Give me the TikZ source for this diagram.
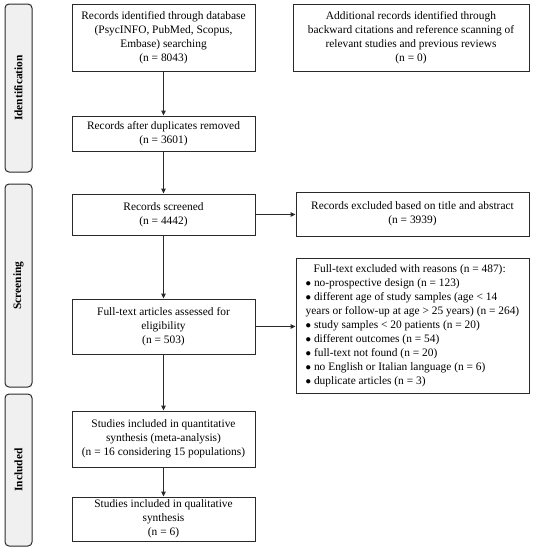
\documentclass[tikz,border=0pt]{standalone}
\usepackage{fontspec}
\setmainfont{Liberation Serif}
\usetikzlibrary{arrows.meta}
\definecolor{phasefill}{HTML}{F0F0F0}
\definecolor{edge}{HTML}{2A2A2A}
\tikzset{
  box/.style={draw=edge, line width=1pt, fill=white, align=center, inner sep=2pt, font=\fontsize{11.4}{14}\selectfont},
  phase/.style={draw=edge, line width=1pt, fill=phasefill, rounded corners=4pt, minimum width=27pt, rotate=90, font=\fontsize{11.4}{12}\selectfont\bfseries},
  arr/.style={draw=edge, line width=1pt, -{Triangle[length=5pt,width=4.5pt]}}
}
\begin{document}
\begin{tikzpicture}[x=1pt,y=-1pt]
\useasboundingbox (0,0) rectangle (534,550);
% phase boxes
\node[phase, minimum width=168pt, minimum height=27pt] (pid) at (18.5,88) {Identification};
\node[phase, minimum width=203pt, minimum height=27pt] (psc) at (18.5,285.5) {Screening};
\node[phase, minimum width=152pt, minimum height=27pt] (pin) at (18.5,470) {Included};
% boxes
\node[box, minimum width=183pt, minimum height=67pt] (a) at (163.5,37.5) {Records identified through database\\(PsycINFO, PubMed, Scopus,\\Embase) searching\\(n = 8043)};
\node[box, minimum width=236pt, minimum height=67pt] (c) at (411,37.5) {Additional records identified through\\backward citations and reference scanning of\\relevant studies and previous reviews\\(n = 0)};
\node[box, minimum width=183pt, minimum height=35pt] (b) at (163.5,133.5) {Records after duplicates removed\\(n = 3601)};
\node[box, minimum width=183pt, minimum height=41pt] (d) at (163.5,214.5) {Records screened\\(n = 4442)};
\node[box, minimum width=233pt, minimum height=44pt] (e) at (412.5,214) {Records excluded based on title and abstract\\(n = 3939)};
\node[box, minimum width=183pt, minimum height=55pt] (f) at (163.5,326.5) {Full-text articles assessed for\\eligibility\\(n = 503)};
\node[box, minimum width=233pt, minimum height=135pt, align=left] (g) at (412.5,325.5) {\hspace*{8pt}Full-text excluded with reasons (n = 487):\\
$\bullet$ no-prospective design (n = 123)\\
$\bullet$ different age of study samples (age < 14\\
years or follow-up at age > 25 years) (n = 264)\\
$\bullet$ study samples < 20 patients (n = 20)\\
$\bullet$ different outcomes (n = 54)\\
$\bullet$ full-text not found (n = 20)\\
$\bullet$ no English or Italian language (n = 6)\\
$\bullet$ duplicate articles (n = 3)};
\node[box, minimum width=183pt, minimum height=56pt] (h) at (163.5,439) {Studies included in quantitative\\synthesis (meta-analysis)\\(n = 16 considering 15 populations)};
\node[box, minimum width=183pt, minimum height=44pt] (i) at (163.5,519) {Studies included in qualitative\\synthesis\\(n = 6)};
% arrows
\draw[arr] (a) -- (b);
\draw[arr] (b) -- (d);
\draw[arr] (d) -- (f);
\draw[arr] (f) -- (h);
\draw[arr] (h) -- (i);
\draw[arr] (d.east) -- (e.west |- d.east);
\draw[arr] (f.east) -- (g.west |- f.east);
\end{tikzpicture}
\end{document}
